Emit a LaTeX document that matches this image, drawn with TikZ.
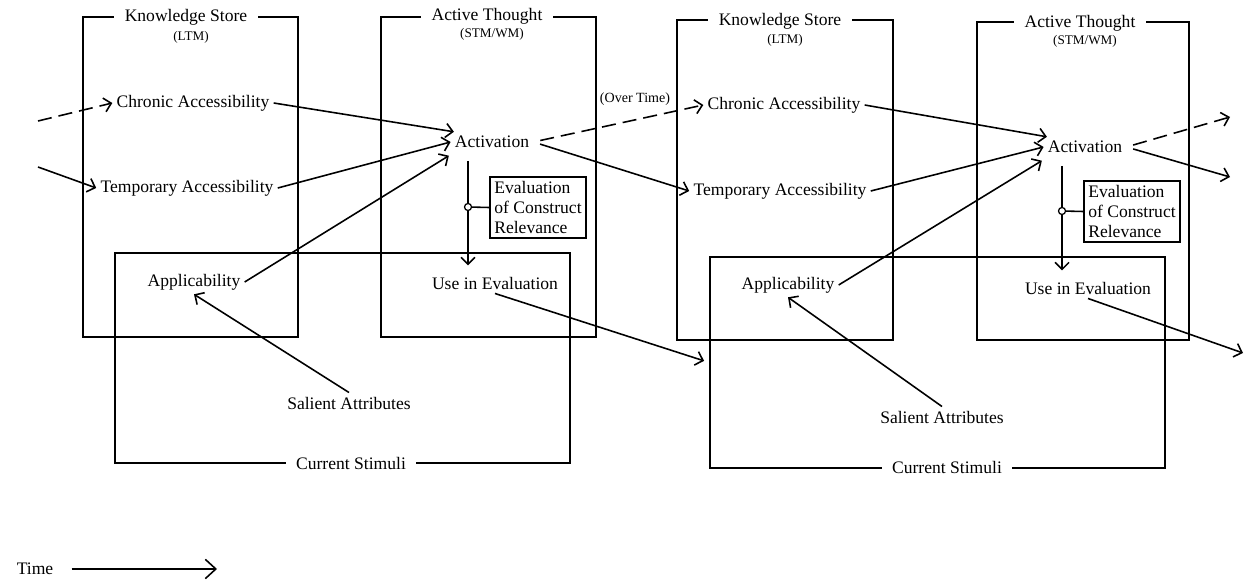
\documentclass[tikz,border=0pt]{standalone}
\usepackage{fontspec}
\setmainfont{Liberation Serif}
\usetikzlibrary{arrows.meta,fit}

\begin{document}
\begin{tikzpicture}[x=0.02cm,y=-0.02cm,line width=0.9pt,
  frame/.style={draw,inner sep=0pt,line width=1pt},
  title/.style={fill=white,inner xsep=6pt,inner ysep=1pt,font=\fontsize{10}{12}\selectfont},
  sub/.style={inner sep=0pt,font=\fontsize{7.5}{9}\selectfont},
  term/.style={inner sep=2pt,font=\fontsize{10}{12}\selectfont},
  evalbox/.style={draw,align=left,inner sep=2.5pt,line width=1pt,font=\fontsize{10}{11.5}\selectfont},
  knob/.style={circle,draw,fill=white,inner sep=0pt,minimum size=4pt,line width=0.7pt},
  arr/.style={-{Straight Barb[length=4pt,width=8pt]}},
  dashline/.style={dash pattern=on 8pt off 4pt},
]
\useasboundingbox (0,0) rectangle (1245,580);

% first step
\node[frame,fit={(83,17) (298,337)}] (ksA) {};
\node[frame,fit={(381,17) (596,337)}] (atA) {};
\node[frame,fit={(115,253) (570,463)}] (csA) {};
\node[title] (ksAt) at (186,17) {Knowledge Store};
\node[sub] (ksAs) at (191,37) {(LTM)};
\node[title] (atAt) at (487,16) {Active Thought};
\node[sub] (atAs) at (492,34) {(STM/WM)};
\node[title] (csAt) at (351,463) {Current Stimuli};

\node[term] (chronA) at (193,103) {Chronic Accessibility};
\node[term] (tempA) at (187,188) {Temporary Accessibility};
\node[term] (applA) at (194,282) {Applicability};
\node[term] (actA) at (492,142) {Activation};
\node[term] (useA) at (495,283) {Use in Evaluation};
\node[term] (salA) at (349,403) {Salient Attributes};
\node[evalbox] (evA) at (538,207.5) {Evaluation\\of Construct\\Relevance};
\coordinate (knobA) at (468,207);

% second step
\node[frame,fit={(677,20) (893,340)}] (ksB) {};
\node[frame,fit={(977,22) (1189,340)}] (atB) {};
\node[frame,fit={(710,257) (1165,468)}] (csB) {};
\node[title] (ksBt) at (780,21) {Knowledge Store};
\node[sub] (ksBs) at (785,40) {(LTM)};
\node[title] (atBt) at (1080,23) {Active Thought};
\node[sub] (atBs) at (1085,41) {(STM/WM)};
\node[title] (csBt) at (947,467) {Current Stimuli};

\node[term] (chronB) at (784,105) {Chronic Accessibility};
\node[term] (tempB) at (780,191) {Temporary Accessibility};
\node[term] (applB) at (788,285) {Applicability};
\node[term] (actB) at (1085,147) {Activation};
\node[term] (useB) at (1088,288) {Use in Evaluation};
\node[term] (salB) at (942,417) {Salient Attributes};
\node[evalbox] (evB) at (1132,211.5) {Evaluation\\of Construct\\Relevance};
\coordinate (knobB) at (1062,211);

% loose ends
\coordinate (inDashA) at (38,121);
\coordinate (inSolidA) at (38,167);
\coordinate (outDashB) at (1230,117);
\coordinate (outSolidB) at (1230,177);
\coordinate (outUseB) at (1243,353);

% links
\draw[arr,dashline] (inDashA) -- (chronA.west);
\draw[arr] (inSolidA) -- (tempA.west);
\draw[arr] (chronA.east) -- (actA.165);
\draw[arr] (tempA.east) -- (actA.west);
\draw[arr] (applA.east) -- ([xshift=-1pt,yshift=-2pt]actA.south west);
\draw[arr] (salA.north) -- (applA.south);
\draw[arr,shorten <=5pt,shorten >=4pt] (knobA |- actA.south) -- (knobA |- useA.north);
\draw (knobA) -- (evA.west);
\node[knob] at (knobA) {};

\draw[arr,dashline,shorten <=4pt] (actA.east) -- (chronB.west);
\node[sub,font=\fontsize{8}{9}\selectfont] (overT) at (635,99) {(Over Time)};
\draw[arr,shorten <=4pt] (actA.east) -- (tempB.west);
\draw[arr,shorten >=3pt] (useA.south) -- (csB.west);

\draw[arr] (chronB.east) -- (actB.165);
\draw[arr] (tempB.east) -- (actB.west);
\draw[arr] (applB.east) -- ([xshift=-1pt,yshift=-2pt]actB.south west);
\draw[arr] (salB.north) -- (applB.south);
\draw[arr,shorten <=5pt,shorten >=4pt] (knobB |- actB.south) -- (knobB |- useB.north);
\draw (knobB) -- (evB.west);
\node[knob] at (knobB) {};

\draw[arr,dashline,shorten <=4pt] (actB.east) -- (outDashB);
\draw[arr,shorten <=4pt] (actB.east) -- (outSolidB);
\draw[arr] (useB.south) -- (outUseB);

% time axis
\node[term] (timeL) at (35,569) {Time};
\coordinate (timeEnd) at (217,569);
\draw[-{Straight Barb[length=6pt,width=11pt]},shorten <=8pt] (timeL.east) -- (timeEnd);
\end{tikzpicture}
\end{document}
